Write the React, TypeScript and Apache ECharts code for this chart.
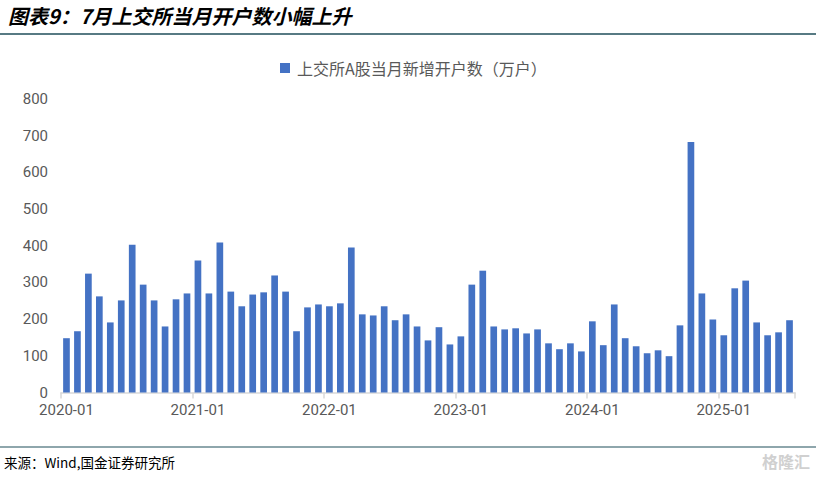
import React, { useEffect, useRef } from "react";
import * as echarts from "echarts";

const years = [2020, 2021, 2022, 2023, 2024, 2025];
const categories: string[] = [];
years.forEach((y) => {
  const n = y === 2025 ? 7 : 12;
  for (let m = 1; m <= n; m++) categories.push(`${y}-${m < 10 ? "0" + m : m}`);
});

const values2020 = [148, 167, 324, 262, 191, 251, 403, 294, 251, 180, 254, 270];
const values2021 = [360, 270, 409, 275, 235, 267, 273, 319, 275, 167, 232, 240];
const values2022 = [235, 243, 395, 213, 210, 235, 197, 213, 180, 142, 178, 131];
const values2023 = [153, 294, 332, 180, 172, 175, 161, 172, 134, 118, 134, 112];
const values2024 = [194, 129, 240, 148, 126, 107, 115, 99, 183, 683, 270, 199];
const values2025 = [156, 284, 305, 191, 156, 164, 197];
const values = [...values2020, ...values2021, ...values2022, ...values2023, ...values2024, ...values2025];

const seriesName = "上交所A股当月新增开户数（万户）";
const titleText = "图表9：7月上交所当月开户数小幅上升";
const sourceText = "来源：Wind,国金证券研究所";

export default function App() {
  const ref = useRef<HTMLDivElement>(null);
  useEffect(() => {
    if (!ref.current) return;
    const chart = echarts.init(ref.current, undefined, { renderer: "svg" });
    chart.setOption({
      animation: false,
      backgroundColor: "#ffffff",
      textStyle: { fontFamily: "'Noto Sans CJK SC', 'Noto Sans', sans-serif" },
      legend: {
        top: 55,
        left: 275,
        itemWidth: 10,
        itemHeight: 10,
        icon: "rect",
        itemGap: 6,
        textStyle: { color: "#595959", fontSize: 16, padding: [0, 0, 0, 2] },
        data: [seriesName],
      },
      grid: { left: 61, right: 21, top: 99, bottom: 88.5, containLabel: false },
      xAxis: {
        type: "category",
        data: categories,
        boundaryGap: true,
        axisLine: { lineStyle: { color: "#D9D9D9", width: 1.5 } },
        axisTick: { show: true, interval: 11, length: 6, lineStyle: { color: "#D9D9D9", width: 1.5 } },
        axisLabel: { interval: 11, color: "#595959", fontSize: 15, margin: 10, fontFamily: "Roboto, 'Noto Sans', sans-serif" },
      },
      yAxis: {
        type: "value",
        min: 0,
        max: 800,
        interval: 100,
        splitLine: { show: false },
        axisLine: { show: false },
        axisTick: { show: false },
        axisLabel: { color: "#595959", fontSize: 15, margin: 13, fontFamily: "Roboto, 'Noto Sans', sans-serif" },
      },
      series: [
        {
          name: seriesName,
          type: "bar",
          data: values,
          barCategoryGap: "39%",
          itemStyle: { color: "#4472C4" },
        },
      ],
      graphic: [
        {
          type: "text",
          left: 8,
          top: 5,
          style: {
            text: titleText,
            fontSize: 20,
            fontWeight: "bold",
            fontStyle: "italic",
            fill: "#000000",
            fontFamily: "'Noto Sans CJK SC', sans-serif",
          },
        },
        {
          type: "line",
          shape: { x1: 0, y1: 34, x2: 816, y2: 34 },
          style: { stroke: "#1F4E5A", lineWidth: 1.5 },
        },
        {
          type: "line",
          shape: { x1: 0, y1: 447, x2: 816, y2: 447 },
          style: { stroke: "#1F4E5A", lineWidth: 1.2 },
        },
        {
          type: "text",
          left: 4,
          top: 455,
          style: {
            text: sourceText,
            fontSize: 13.5,
            fill: "#000000",
            fontFamily: "'Noto Sans CJK SC', sans-serif",
          },
        },
        {
          type: "text",
          right: 6,
          top: 453,
          style: {
            text: "格隆汇",
            fontSize: 16,
            fontWeight: "bold",
            fill: "#D0D0D0",
            fontFamily: "'Noto Sans CJK SC', sans-serif",
          },
        },
      ],
    });
    return () => chart.dispose();
  }, []);
  return (
    <div style={{ position: "fixed", left: 0, top: 0, width: 816, height: 481, background: "#fff" }}>
      <div ref={ref} style={{ width: 816, height: 481 }} />
    </div>
  );
}
